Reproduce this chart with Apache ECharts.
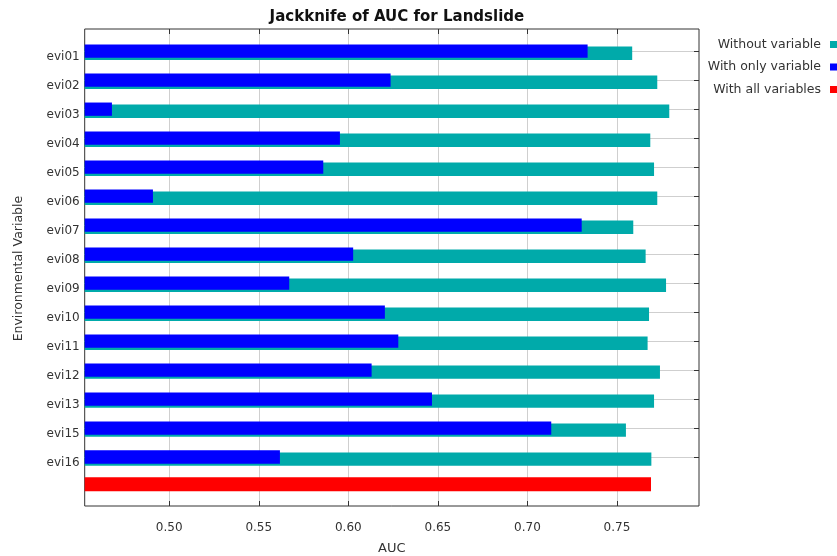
<!DOCTYPE html>
<html>
<head>
<meta charset="utf-8">
<script src="https://cdn.jsdelivr.net/npm/echarts@6/dist/echarts.min.js"></script>
<style>html,body{margin:0;padding:0;background:#fff}#c{width:837px;height:556px}</style>
</head>
<body>
<div id="c"></div>
<script>
const categories = ['evi01','evi02','evi03','evi04','evi05','evi06','evi07','evi08','evi09','evi10','evi11','evi12','evi13','evi15','evi16'];
const withoutVariable = [0.7585, 0.7725, 0.7792, 0.7686, 0.7707, 0.7725, 0.7591, 0.7660, 0.7774, 0.7679, 0.7671, 0.7740, 0.7707, 0.7550, 0.7692];
const withOnlyVariable = [0.7336, 0.6236, 0.4680, 0.5953, 0.5860, 0.4909, 0.7303, 0.6027, 0.5670, 0.6204, 0.6279, 0.6130, 0.6467, 0.7133, 0.5618];
const withAllVariables = 0.7690;
const xTicks = [0.50, 0.55, 0.60, 0.65, 0.70, 0.75];
const xMin = 0.4528, xMax = 0.7958;

const rows = categories.concat(['']);
const nCat = categories.length;
const redData = categories.map(() => null).concat([withAllVariables]);
const FONT = 'DejaVu Sans';
const TXT = '#333';
const GRIDC = '#cfcfcf';

const chart = echarts.init(document.getElementById('c'), null, {renderer: 'canvas'});
chart.setOption({
  animation: false,
  backgroundColor: '#fff',
  textStyle: {fontFamily: FONT},
  title: {
    text: 'Jackknife of AUC for Landslide',
    left: 391.9, top: 5, textAlign: 'center',
    textStyle: {fontFamily: FONT, fontWeight: 'bold', fontSize: 15, color: '#111'}
  },
  legend: {
    orient: 'vertical', right: -5, top: 33, align: 'right',
    itemWidth: 7, itemHeight: 7, itemGap: 9.5, icon: 'rect', selectedMode: false,
    textStyle: {fontFamily: FONT, fontSize: 12.5, color: TXT, padding: [0, 4, 0, 0]},
    data: ['Without variable', 'With only variable', 'With all variables']
  },
  grid: [
    {left: 84.7, right: 138, top: 29, bottom: 50, show: true, borderColor: '#333', borderWidth: 1, backgroundColor: 'transparent', containLabel: false, outerBoundsMode: 'none'},
    {left: 84.7, right: 138, top: 51.2, bottom: 70, containLabel: false, outerBoundsMode: 'none'}
  ],
  xAxis: [
    {
      gridIndex: 0, type: 'value', position: 'bottom', min: xMin, max: xMax,
      name: 'AUC', nameLocation: 'middle', nameGap: 36,
      nameTextStyle: {fontFamily: FONT, fontSize: 13, color: TXT},
      axisLine: {show: false},
      axisTick: {show: true, inside: true, length: 5, lineStyle: {color: '#333'}, customValues: xTicks},
      axisLabel: {show: true, customValues: xTicks, formatter: v => Number(v).toFixed(2), margin: 16, color: TXT, fontSize: 12, fontFamily: FONT},
      splitLine: {show: true, lineStyle: {color: GRIDC, width: 1}}
    },
    {
      gridIndex: 0, type: 'value', position: 'top', min: xMin, max: xMax,
      axisLine: {show: false},
      axisTick: {show: true, inside: true, length: 5, lineStyle: {color: '#333'}, customValues: xTicks},
      axisLabel: {show: false},
      splitLine: {show: false}
    },
    {
      gridIndex: 1, type: 'value', min: xMin, max: xMax, startValue: xMin, show: false
    }
  ],
  yAxis: [
    {gridIndex: 0, type: 'value', min: 0, max: 1, show: false},
    {
      gridIndex: 1, type: 'category', inverse: true, boundaryGap: false, data: rows,
      name: 'Environmental Variable', nameLocation: 'middle', nameGap: 59, nameRotate: 90,
      nameTextStyle: {fontFamily: FONT, fontSize: 12.5, color: TXT},
      axisLine: {show: false},
      axisTick: {show: false},
      axisLabel: {margin: 5, verticalAlign: 'top', lineHeight: 12, color: TXT, fontSize: 12, fontFamily: FONT, interval: 0},
      splitLine: {show: true, interval: (i) => i < nCat, lineStyle: {color: GRIDC, width: 1}}
    },
    {
      gridIndex: 1, type: 'category', position: 'right', inverse: true, boundaryGap: false, data: rows,
      axisLine: {show: false},
      axisLabel: {show: false},
      axisTick: {show: true, inside: true, length: 5, interval: (i) => i < nCat, lineStyle: {color: '#333'}},
      splitLine: {show: false}
    }
  ],
  series: [
    {
      name: 'With all variables', type: 'bar', xAxisIndex: 2, yAxisIndex: 1,
      data: redData, barWidth: 14, barGap: '-84.5%', clip: false, z: 2,
      itemStyle: {color: '#ff0000'}
    },
    {
      name: 'With only variable', type: 'bar', xAxisIndex: 2, yAxisIndex: 1,
      data: withOnlyVariable, barWidth: 13.3, barGap: '-84.5%', clip: false, z: 4,
      itemStyle: {color: '#0000ff'}
    },
    {
      name: 'Without variable', type: 'bar', xAxisIndex: 2, yAxisIndex: 1,
      data: withoutVariable, barWidth: 13.4, barGap: '-84.5%', clip: false, z: 3,
      itemStyle: {color: '#00aaaa'}
    }
  ]
});
</script>
</body>
</html>
